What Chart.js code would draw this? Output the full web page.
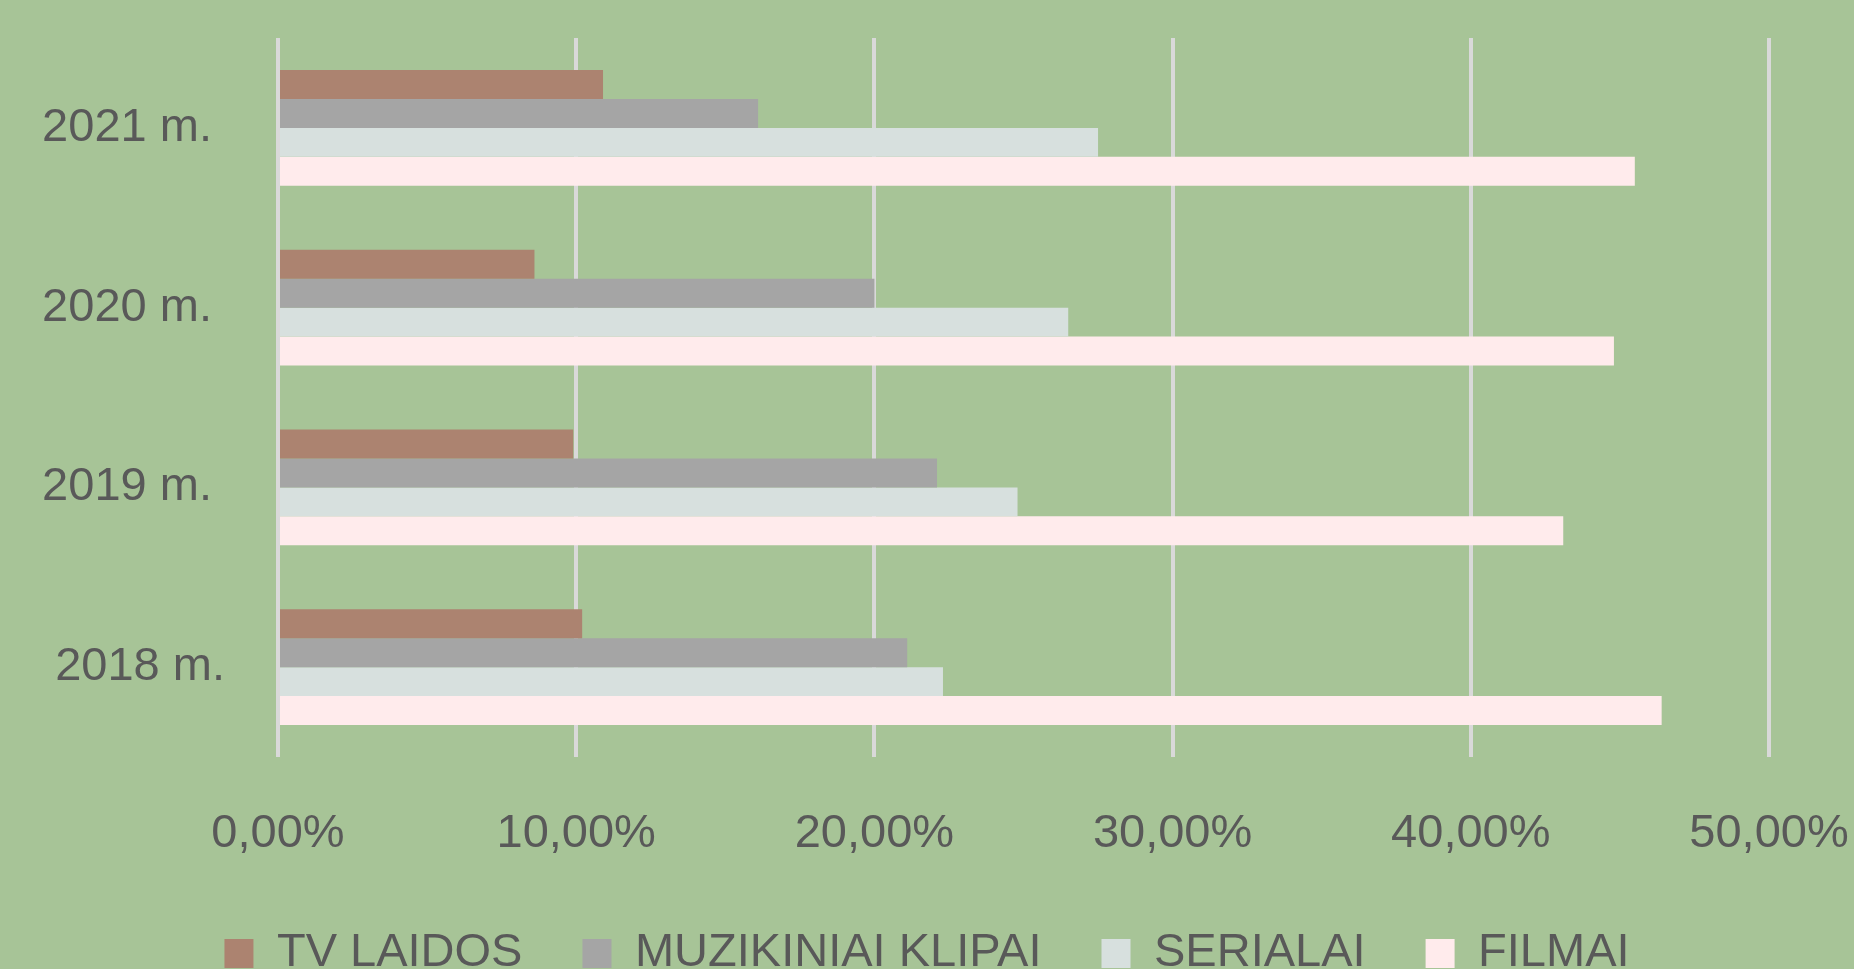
<!DOCTYPE html>
<html>
<head>
<meta charset="utf-8">
<script src="https://cdn.jsdelivr.net/npm/chart.js@4"></script>
<style>
  html, body { margin: 0; padding: 0; overflow: hidden; background: #A7C497; }
  #wrap { width: 1854px; height: 987px; }
</style>
</head>
<body>
<div id="wrap"><canvas id="chart"></canvas></div>
<script>
// categories top to bottom, as in the picture
const years = ['2021 m. ', '2020 m. ', '2019 m. ', '2018 m.'];

// shares in percent
const tvLaidos = [10.9, 8.6, 9.9, 10.2];
const muzikiniaiKlipai = [16.1, 20.0, 22.1, 21.1];
const serialai = [27.5, 26.5, 24.8, 22.3];
const filmai = [45.5, 44.8, 43.1, 46.4];

const xTicks = [0, 10, 20, 30, 40, 50];

const FONT = "'Liberation Sans', Arial, sans-serif";
const TEXT = '#595959';

const ctx = document.getElementById('chart').getContext('2d');
new Chart(ctx, {
  type: 'bar',
  data: {
    labels: years,
    datasets: [
      { label: 'TV LAIDOS', data: tvLaidos, backgroundColor: '#AC8370' },
      { label: 'MUZIKINIAI KLIPAI', data: muzikiniaiKlipai, backgroundColor: '#A5A5A5' },
      { label: 'SERIALAI', data: serialai, backgroundColor: '#D7E0DE' },
      { label: 'FILMAI', data: filmai, backgroundColor: '#FFEBEC' }
    ]
  },
  options: {
    indexAxis: 'y',
    responsive: true,
    maintainAspectRatio: false,
    animation: false,
    datasets: {
      bar: { categoryPercentage: 0.645, barPercentage: 1, borderWidth: 0 }
    },
    layout: { padding: { top: 38, right: 0, left: 0, bottom: 0 } },
    plugins: {
      tooltip: { enabled: false },
      legend: {
        position: 'bottom',
        labels: {
          color: TEXT,
          font: { family: FONT, size: 47 },
          boxWidth: 29,
          boxHeight: 29,
          padding: 60
        }
      }
    },
    scales: {
      x: {
        min: 0,
        max: 50,
        afterBuildTicks: (scale) => { scale.ticks = xTicks.map(v => ({ value: v })); },
        afterFit: (scale) => {
          scale.height = 113;
          scale.paddingLeft = 0;
          scale.paddingRight = 85;
        },
        grid: { color: '#D9D9D9', lineWidth: 4, drawTicks: false },
        border: { display: false },
        ticks: {
          color: TEXT,
          font: { family: FONT, size: 47 },
          padding: 49,
          maxRotation: 0,
          callback: (v) => v.toFixed(2).replace('.', ',') + '%'
        }
      },
      y: {
        afterFit: (scale) => {
          scale.width = 278;
          scale.paddingTop = 0;
          scale.paddingBottom = 0;
        },
        grid: { display: false, drawTicks: false },
        border: { display: false },
        ticks: {
          color: TEXT,
          font: { family: FONT, size: 47 },
          padding: 53
        }
      }
    }
  }
});
</script>
</body>
</html>
